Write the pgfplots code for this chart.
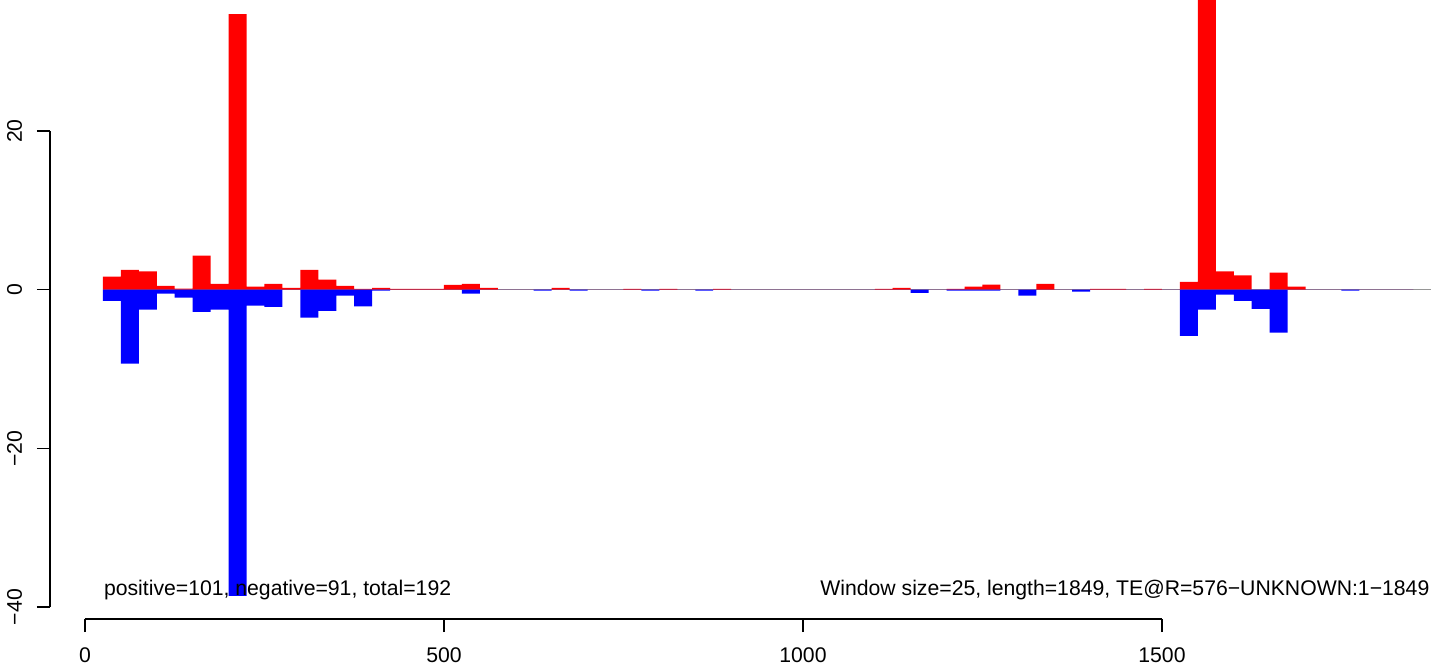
\documentclass[border=0pt]{standalone}
\usepackage{fontspec}
\setmainfont{Liberation Sans}
\usepackage{pgfplots}
\usepackage{pgfplotstable}
\pgfplotsset{compat=1.18}
\definecolor{zline}{RGB}{150,150,150}
\definecolor{pred}{RGB}{255,0,0}
\definecolor{nblue}{RGB}{0,0,255}

\pgfplotstableread{
x pos neg
25 1.64 -1.39
50 2.5 -9.3
75 2.3 -2.5
100 0.5 -0.5
125 0.15 -1.0
150 4.3 -2.8
175 0.75 -2.5
200 34.75 -38.6
225 0.4 -2.0
250 0.75 -2.15
275 0.25 0
300 2.5 -3.5
325 1.26 -2.65
350 0.5 -0.75
375 0.12 -2.1
400 0.25 -0.1
425 0.12 0
450 0.12 0
475 0.12 0
500 0.6 0
525 0.75 -0.5
550 0.25 0
575 0 0
600 0 0
625 0 -0.1
650 0.25 0
675 0 -0.1
700 0 0
725 0 0
750 0.12 0
775 0 -0.1
800 0.12 0
825 0 0
850 0 -0.1
875 0.12 0
900 0 0
925 0 0
950 0 0
975 0 0
1000 0 0
1025 0 0
1050 0 0
1075 0 0
1100 0.12 0
1125 0.25 0
1150 0 -0.4
1175 0 0
1200 0.12 -0.12
1225 0.38 -0.12
1250 0.63 -0.12
1275 0 0
1300 0 -0.75
1325 0.75 0
1350 0 0
1375 0 -0.25
1400 0.12 0
1425 0.12 0
1450 0 0
1475 0.12 0
1500 0 0
1525 1.0 -5.8
1550 45 -2.5
1575 2.3 -0.6
1600 1.8 -1.4
1625 0 -2.4
1650 2.15 -5.4
1675 0.38 0
1700 0 0
1725 0 0
1750 0 -0.1
1775 0 0
1800 0 0
1825 0 0
1850 0 0
}\windows

\begin{document}
\begin{tikzpicture}
\begin{axis}[
  scale only axis, width=697pt, height=309.5pt,
  xmin=-48.7, xmax=1892.8, ymin=-41.5, ymax=36.52,
  axis x line*=bottom, axis y line*=left,
  axis line style={draw=none},
  clip mode=individual,
  xtick={0,500,1000,1500}, xticklabels={0,500,1000,1500},
  ytick={-40,-20,0,20}, yticklabels={−40,−20,0,20},
  tick align=outside, major tick length=6.5pt,
  tick style={black, line width=0.7pt},
  minor tick num=0,
  every tick label/.append style={font=\fontsize{10.6}{12}\selectfont, inner sep=0pt},
  xticklabel style={anchor=base, yshift=-15.3pt},
  yticklabel style={rotate=90, anchor=base, yshift=7.5pt},
]
\addplot[zline, line width=0.6pt] coordinates {(25,0) (1875,0)};
\addplot[ybar interval, fill=pred, draw=none] table[x=x, y=pos] {\windows};
\addplot[ybar interval, fill=nblue, draw=none] table[x=x, y=neg] {\windows};
\draw[line width=0.7pt] (axis cs:0,-41.5) -- (axis cs:1500,-41.5);
\draw[line width=0.7pt] (axis cs:-48.7,-40) -- (axis cs:-48.7,20);
\node[anchor=base west, font=\fontsize{10.6}{12}\selectfont, inner sep=0pt] at (axis cs:26,-38.6) {positive=101, negative=91, total=192};
\node[anchor=base east, font=\fontsize{10.6}{12}\selectfont, inner sep=0pt] at (axis cs:1873,-38.6) {Window size=25, length=1849, TE@R=576−UNKNOWN:1−1849};
\coordinate (ll) at (rel axis cs:0,0);
\coordinate (ur) at (rel axis cs:1,1);
\end{axis}
\pgfresetboundingbox
\path[use as bounding box] ([xshift=-25pt,yshift=-23pt]ll) rectangle (ur);
\end{tikzpicture}
\end{document}
